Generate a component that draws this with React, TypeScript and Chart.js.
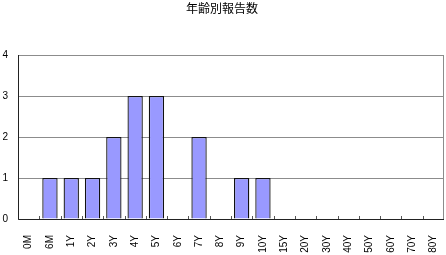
import React, { useEffect, useRef } from "react";
import { Chart, registerables } from "chart.js";

Chart.register(...registerables);

const categories = ["0M", "6M", "1Y", "2Y", "3Y", "4Y", "5Y", "6Y", "7Y", "8Y", "9Y", "10Y", "15Y", "20Y", "30Y", "40Y", "50Y", "60Y", "70Y", "80Y"];
const reports = [0, 1, 1, 1, 2, 3, 3, 0, 2, 0, 1, 1, 0, 0, 0, 0, 0, 0, 0, 0];
const yTicks = [0, 1, 2, 3, 4];
const titleText = "年齢別報告数";

const frame = {
  id: "frame",
  afterDatasetsDraw(chart: any) {
    const { ctx, chartArea: a, scales } = chart;
    const x = scales.x;
    ctx.save();
    ctx.strokeStyle = "#8c8c8c";
    ctx.lineWidth = 1;
    ctx.beginPath();
    ctx.moveTo(a.left, a.top + 0.5);
    ctx.lineTo(a.right - 0.5, a.top + 0.5);
    ctx.lineTo(a.right - 0.5, a.bottom);
    ctx.stroke();
    ctx.strokeStyle = "#222";
    ctx.beginPath();
    ctx.moveTo(a.left + 0.5, a.top);
    ctx.lineTo(a.left + 0.5, a.bottom + 0.5);
    ctx.lineTo(a.right, a.bottom + 0.5);
    ctx.stroke();
    ctx.strokeStyle = "#555";
    ctx.beginPath();
    for (let i = 1; i < categories.length; i++) {
      const px = Math.round((x.getPixelForValue(i - 1) + x.getPixelForValue(i)) / 2) + 0.5;
      ctx.moveTo(px, a.bottom);
      ctx.lineTo(px, a.bottom - 3);
    }
    ctx.stroke();
    ctx.restore();
  },
};

export default function App() {
  const ref = useRef<HTMLCanvasElement | null>(null);
  useEffect(() => {
    document.body.style.margin = "0";
    const chart = new Chart(ref.current!, {
      type: "bar",
      data: {
        labels: categories,
        datasets: [
          {
            data: reports,
            backgroundColor: "#9999ff",
            borderColor: "#111",
            borderWidth: 1.3,
            categoryPercentage: 1,
            barPercentage: 0.72,
          },
        ],
      },
      options: {
        animation: false,
        responsive: false,
        layout: { padding: { top: 0, right: 2, left: 0, bottom: 0 } },
        plugins: {
          legend: { display: false },
          tooltip: { enabled: false },
          title: {
            display: true,
            text: titleText,
            color: "#000",
            font: { family: "'Noto Sans CJK JP'", size: 12, weight: "normal" },
            padding: { top: 1, bottom: 39.6 },
          },
        },
        scales: {
          x: {
            grid: { display: false },
            border: { display: false },
            ticks: {
              color: "#000",
              font: { family: "'Liberation Sans'", size: 10 },
              minRotation: 90,
              maxRotation: 90,
              padding: 8,
              autoSkip: false,
            },
            afterFit: (s: any) => {
              s.height = 36;
              s.paddingLeft = 0;
              s.paddingRight = 0;
            },
          },
          y: {
            min: 0,
            max: 4,
            afterBuildTicks: (s: any) => {
              s.ticks = yTicks.map((v) => ({ value: v }));
            },
            grid: { color: "#8c8c8c", drawTicks: false },
            border: { display: false },
            ticks: {
              color: "#000",
              font: { family: "'Liberation Sans'", size: 10 },
              padding: 10,
            },
            afterFit: (s: any) => {
              s.width = 18;
              s.paddingTop = 0;
              s.paddingBottom = 0;
            },
          },
        },
      },
      plugins: [frame],
    });
    return () => chart.destroy();
  }, []);
  return <canvas ref={ref} width={446} height={255} style={{ display: "block" }} />;
}
